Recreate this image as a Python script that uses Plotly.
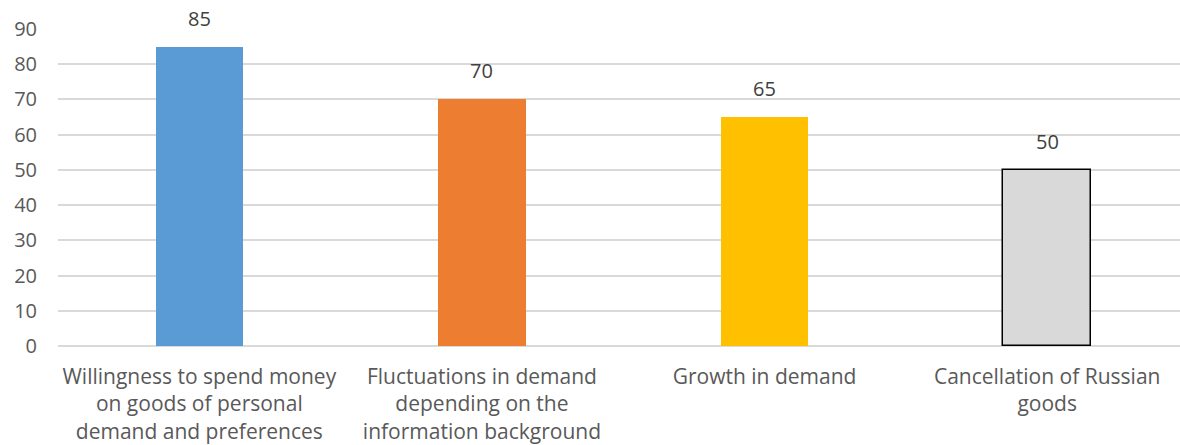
import plotly.graph_objects as go

categories = [
    "Willingness to spend money<br>on goods of personal<br>demand and preferences",
    "Fluctuations in demand<br>depending on the<br>information background",
    "Growth in demand",
    "Cancellation of Russian<br>goods",
]
values = [85, 70, 65, 50]
colors = ["#5B9BD5", "#ED7D31", "#FFC000", "#D9D9D9"]
line_colors = ["rgba(0,0,0,0)", "rgba(0,0,0,0)", "rgba(0,0,0,0)", "#000000"]
line_widths = [0, 0, 0, 1.5]
tick_vals = list(range(0, 100, 10))

x_pos = list(range(len(categories)))

fig = go.Figure(go.Bar(
    x=x_pos,
    y=values,
    width=0.31,
    marker=dict(color=colors, line=dict(color=line_colors, width=line_widths)),
    cliponaxis=False,
))

for xi, v in zip(x_pos, values):
    fig.add_annotation(
        x=xi, y=v, text=str(v), showarrow=False,
        yanchor="bottom", yshift=13,
        font=dict(size=20, color="#404040"),
    )

fig.update_layout(
    width=1180, height=445,
    margin=dict(l=58, r=0, t=29, b=99),
    plot_bgcolor="white", paper_bgcolor="white",
    font=dict(family="Open Sans, Liberation Sans, sans-serif", size=20, color="#595959"),
    showlegend=False,
    bargap=0,
)
fig.update_xaxes(
    range=[-0.5, 3.47],
    tickmode="array",
    tickvals=x_pos,
    ticktext=categories,
    showgrid=False, zeroline=False, showline=False,
    ticks="", tickangle=0, automargin=False,
    tickfont=dict(size=21, color="#595959"),
    ticklabelstandoff=16,
)
fig.update_yaxes(
    range=[0, 90],
    tickvals=tick_vals,
    showgrid=True, gridcolor="#D9D9D9", gridwidth=1.5,
    zeroline=True, zerolinecolor="#D9D9D9", zerolinewidth=1.5,
    showline=False, ticks="", automargin=False,
    tickfont=dict(size=20, color="#595959"),
    ticklabelstandoff=20,
)

fig.write_html(
    "out.html",
    config={"displayModeBar": False},
    post_script="document.body.style.margin='0';document.body.style.overflow='hidden';",
)
